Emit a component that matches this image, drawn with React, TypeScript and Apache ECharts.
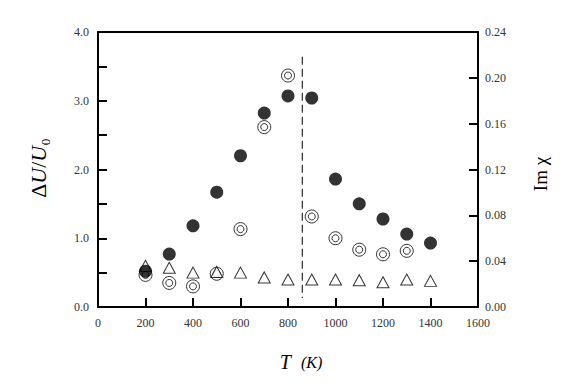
import React, { useEffect, useRef } from "react";
import * as echarts from "echarts";

// Temperatures (K)
const temps = [200, 300, 400, 500, 600, 700, 800, 900, 1000, 1100, 1200, 1300, 1400];
// Filled circles: ΔU/U0 (left axis)
const deltaU = [0.52, 0.77, 1.18, 1.67, 2.2, 2.82, 3.07, 3.04, 1.86, 1.5, 1.28, 1.06, 0.93];
// Double circles: Im χ (right axis)
const imChiTemps = [200, 300, 400, 500, 600, 700, 800, 900, 1000, 1100, 1200, 1300];
const imChi = [0.028, 0.021, 0.018, 0.029, 0.068, 0.157, 0.202, 0.079, 0.06, 0.05, 0.046, 0.049];
// Open triangles (left axis)
const triangles = [0.6, 0.57, 0.5, 0.51, 0.5, 0.43, 0.4, 0.4, 0.4, 0.39, 0.36, 0.4, 0.38];
// Dashed transition marker
const transitionT = 860;
const transitionSpan = [3.64, 0.13];

const xTicks = { min: 0, max: 1600, interval: 200 };
const leftTicks = { min: 0, max: 4, interval: 1 };
const rightTicks = { min: 0, max: 0.24, interval: 0.04 };

const labelFont = "'Liberation Serif', 'DejaVu Serif', serif";

export default function App() {
  const ref = useRef<HTMLDivElement>(null);
  useEffect(() => {
    if (!ref.current) return;
    const chart = echarts.init(ref.current, undefined, { renderer: "svg" });
    const axisLabelBase = { fontSize: 12, color: "#333", fontFamily: labelFont };
    const mkTick = () => ({ show: true, inside: true, length: 9, lineStyle: { color: "#000", width: 2 } });
    const mkLine = () => ({ show: true, onZero: false, lineStyle: { color: "#000", width: 2 } });
    const hiddenSplit = () => ({ show: true, lineStyle: { color: "#fff", opacity: 0, width: 0 } });
    const pair = (xs: number[], ys: number[]) => xs.map((x, i) => [x, ys[i]]);
    chart.setOption({
      animation: false,
      grid: { left: 98, right: 108, top: 32, bottom: 84 },
      xAxis: [
        {
          type: "value",
          position: "bottom",
          ...xTicks,
          axisLine: mkLine(),
          axisTick: mkTick(),
          splitLine: hiddenSplit(),
          axisLabel: { ...axisLabelBase, margin: 10, formatter: (v: number) => String(v) },
        },
        {
          type: "value",
          position: "top",
          ...xTicks,
          axisLine: mkLine(),
          axisTick: { show: false },
          splitLine: hiddenSplit(),
          axisLabel: { show: false },
        },
      ],
      yAxis: [
        {
          type: "value",
          position: "left",
          ...leftTicks,
          axisLine: mkLine(),
          axisTick: mkTick(),
          minorTick: { show: true, splitNumber: 2, length: 9, lineStyle: { color: "#000", width: 2 } },
          splitLine: hiddenSplit(),
          axisLabel: { ...axisLabelBase, margin: 9, formatter: (v: number) => v.toFixed(1) },
        },
        {
          type: "value",
          position: "right",
          ...rightTicks,
          axisLine: mkLine(),
          axisTick: mkTick(),
          splitLine: hiddenSplit(),
          axisLabel: { ...axisLabelBase, margin: 7, formatter: (v: number) => v.toFixed(2) },
        },
      ],
      series: [
        {
          type: "line",
          data: [
            [transitionT, transitionSpan[0]],
            [transitionT, transitionSpan[1]],
          ],
          symbol: "none",
          lineStyle: { color: "#000", width: 1, type: [8, 4] },
          silent: true,
        },
        {
          type: "scatter",
          yAxisIndex: 1,
          data: pair(imChiTemps, imChi),
          symbol: "circle",
          symbolSize: 13,
          itemStyle: { color: "#fff", borderColor: "#000", borderWidth: 1 },
        },
        {
          type: "scatter",
          yAxisIndex: 1,
          data: pair(imChiTemps, imChi),
          symbol: "circle",
          symbolSize: 7,
          itemStyle: { color: "#fff", borderColor: "#000", borderWidth: 1 },
        },
        {
          type: "scatter",
          data: pair(temps, triangles),
          symbol: "triangle",
          symbolSize: [12, 11],
          itemStyle: { color: "#fff", borderColor: "#000", borderWidth: 1 },
        },
        {
          type: "scatter",
          data: pair(temps, deltaU),
          symbol: "circle",
          symbolSize: 13,
          itemStyle: { color: "#000" },
        },
      ],
      graphic: [
        {
          type: "text",
          x: 38,
          y: 168,
          rotation: Math.PI / 2,
          style: {
            text: "{d|Δ}{u|U}{s|/}{u|U}{z|₀}",
            align: "center",
            verticalAlign: "middle",
            rich: {
              d: { font: `22px ${labelFont}`, fill: "#000" },
              u: { font: `italic 22px ${labelFont}`, fill: "#000" },
              s: { font: `22px ${labelFont}`, fill: "#000" },
              z: { font: `22px ${labelFont}`, fill: "#000" },
            },
          },
        },
        {
          type: "text",
          x: 540,
          y: 174,
          rotation: Math.PI / 2,
          style: {
            text: "Im χ",
            font: `19px ${labelFont}`,
            fill: "#000",
            align: "center",
            verticalAlign: "middle",
          },
        },
        {
          type: "text",
          x: 301,
          y: 362,
          style: {
            text: "{t|T}{k|(K)}",
            align: "center",
            verticalAlign: "middle",
            rich: {
              t: { font: `italic 20px ${labelFont}`, fill: "#000", padding: [0, 10, 0, 0] },
              k: { font: `italic 16px ${labelFont}`, fill: "#000" },
            },
          },
        },
      ],
    });
    return () => chart.dispose();
  }, []);
  return (
    <div
      ref={ref}
      style={{ position: "absolute", left: 0, top: 0, width: 586, height: 391 }}
    />
  );
}
